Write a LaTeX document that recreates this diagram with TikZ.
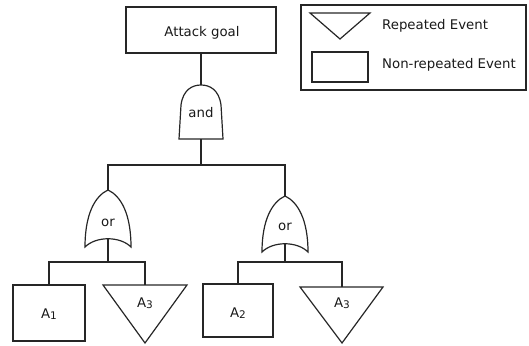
\documentclass[tikz,border=0pt]{standalone}
\usepackage{fontspec}
\setmainfont{DejaVu Sans}
\newcommand{\lowidx}[1]{\raisebox{-1.5pt}{\fontsize{10.5}{10.5}\selectfont #1}}
\begin{document}
\begin{tikzpicture}[x=1pt,y=-1pt,
  line/.style={draw=black!85,line width=1.2pt},
  lbl/.style={anchor=base,inner sep=0pt,font=\fontsize{13.3}{15}\selectfont,text=black!90},
  legtext/.style={anchor=base west,inner sep=0pt,font=\fontsize{13.3}{15}\selectfont,text=black!90}]
\useasboundingbox (0,0) rectangle (529,345);

% top event
\node[line,minimum width=150pt,minimum height=46pt,inner sep=0pt] (goal) at (201,30) {};
\node[lbl] (goaltxt) at (202,37) {Attack goal};

% and gate
\draw[line] (179,139) -- (181,105) .. controls (183,90) and (192,85) .. (201,85)
  .. controls (210,85) and (219,90) .. (221,105) -- (223,139) -- cycle;
\coordinate (andtop) at (201,85);
\coordinate (andbot) at (201,139);
\node[lbl] (andtxt) at (201,117) {and};

% left or gate
\draw[line] (108,190) .. controls (121,196) and (131,214) .. (131,247)
  .. controls (120,236) and (96,236) .. (85,247)
  .. controls (85,214) and (95,196) .. (108,190) -- cycle;
\coordinate (orLtop) at (108,190);
\coordinate (orLbot) at (108,238);
\node[lbl] (orLtxt) at (108,226) {or};

% right or gate
\draw[line] (285,196) .. controls (298,202) and (308,220) .. (308,252)
  .. controls (297,241) and (273,241) .. (262,252)
  .. controls (262,220) and (272,202) .. (285,196) -- cycle;
\coordinate (orRtop) at (285,196);
\coordinate (orRbot) at (285,244);
\node[lbl] (orRtxt) at (285,230) {or};

% basic events
\node[line,minimum width=72pt,minimum height=56pt,inner sep=0pt] (a1) at (49,313) {};
\node[lbl] (a1txt) at (49,318) {A\lowidx{1}};
\node[line,minimum width=70pt,minimum height=53pt,inner sep=0pt] (a2) at (238,310.5) {};
\node[lbl] (a2txt) at (238,317) {A\lowidx{2}};

% repeated events
\coordinate (t1top) at (145,285);
\draw[line] (103,285) -- (187,285) -- (145,343) -- cycle;
\node[lbl] (t1txt) at (145,307) {A\lowidx{3}};
\coordinate (t2top) at (342,287);
\draw[line] (300,287) -- (383,287) -- (342,343) -- cycle;
\node[lbl] (t2txt) at (342,307) {A\lowidx{3}};

% connectors
\coordinate (split) at (201,165);
\coordinate (splitL) at (145,262);
\coordinate (splitR) at (342,262);
\draw[line] (goal.south) -- (andtop);
\draw[line] (andbot) -- (split);
\draw[line] (orLtop) |- (split) -| (orRtop);
\draw[line] (orLbot) -- (108,262);
\draw[line] (a1.north) |- (splitL) -- (t1top);
\draw[line] (orRbot) -- (285,262);
\draw[line] (a2.north) |- (splitR) -- (t2top);

% legend
\node[line,minimum width=225pt,minimum height=85pt,inner sep=0pt] (legend) at (413.5,47.5) {};
\draw[line] (310,13) -- (370,13) -- (340,39) -- cycle;
\coordinate (legtri) at (340,13);
\node[legtext] (legrep) at (382,29.5) {Repeated Event};
\node[line,minimum width=56pt,minimum height=30pt,inner sep=0pt] (legbox) at (340,67) {};
\node[legtext] (legnon) at (382,68.5) {Non-repeated Event};
\end{tikzpicture}
\end{document}
